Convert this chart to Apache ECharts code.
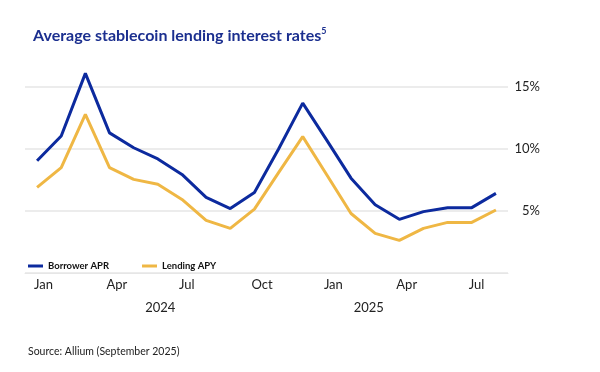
<!DOCTYPE html>
<html><head><meta charset="utf-8">
<script src="https://cdn.jsdelivr.net/npm/echarts@6/dist/echarts.min.js"></script>
<style>html,body{margin:0;padding:0;background:#fff}#c{width:600px;height:372px}</style>
</head><body><div id="c"></div>
<script>
const months = ['Jan','Feb','Mar','Apr','May','Jun','Jul','Aug','Sep','Oct','Nov','Dec',
                'Jan','Feb','Mar','Apr','May','Jun','Jul','Aug'];
const years = ['2024','2025'];
const borrowerAPR = [9.05, 11.05, 16.1, 11.3, 10.1, 9.2, 7.95, 6.1, 5.2, 6.5, 10.0, 13.7, 10.7, 7.65, 5.5, 4.33, 4.95, 5.27, 5.27, 6.42];
const lendingAPY  = [6.9, 8.5, 12.8, 8.5, 7.55, 7.15, 5.93, 4.25, 3.6, 5.15, 8.1, 11.0, 7.9, 4.8, 3.2, 2.63, 3.6, 4.08, 4.08, 5.08];
const yTicks = [0, 5, 10, 15];

const BLUE = '#0c2a9e', YELLOW = '#efb744', FONT = 'Lato';
const chart = echarts.init(document.getElementById('c'), null, {renderer:'canvas'});
chart.setOption({
  animation:false,
  textStyle:{fontFamily:FONT},
  title:[{
    left:28, top:22,
    text:'{t|Average stablecoin lending interest rates}{s|5}',
    textStyle:{rich:{
      t:{fontFamily:FONT,fontSize:16,fontWeight:'bold',color:'#1b2f8f'},
      s:{fontFamily:FONT,fontSize:9,fontWeight:'bold',color:'#1b2f8f',verticalAlign:'top',padding:[0,0,8,0]}
    }}
  },{
    left:23, top:341,
    text:'Source: Allium (September 2025)',
    textStyle:{fontFamily:FONT,fontSize:10.5,fontWeight:'normal',color:'#222'}
  }],
  legend:{
    left:23, top:256, icon:'rect', itemWidth:15, itemHeight:3, itemGap:33,
    textStyle:{fontFamily:FONT,fontSize:9.5,fontWeight:'bold',color:'#111'},
    data:['Borrower APR','Lending APY']
  },
  grid:[
    {left:25, right:92, top:87, bottom:99},
    {left:56, width:417, top:87, bottom:99}
  ],
  xAxis:[{
    type:'category', data:months, boundaryGap:true, gridIndex:0,
    axisLine:{lineStyle:{color:'#e6e6e6',width:1}},
    axisTick:{show:false},
    axisLabel:{interval:(i)=>i%3===0, align:'left', padding:[0,0,0,-3], margin:5,
      fontFamily:FONT,fontSize:13,color:'#222'}
  },{
    type:'category', data:years, boundaryGap:true, gridIndex:1, offset:23,
    axisLine:{show:false}, axisTick:{show:false},
    axisLabel:{margin:5,fontFamily:FONT,fontSize:13,color:'#222'}
  }],
  yAxis:[{
    type:'value', position:'right', min:yTicks[0], max:yTicks[yTicks.length-1], interval:5, gridIndex:0,
    axisLine:{show:false}, axisTick:{show:false},
    splitLine:{lineStyle:{color:'#e6e6e6',width:1.5}},
    axisLabel:{showMinLabel:false, align:'right', margin:32, fontFamily:FONT,fontSize:13,color:'#222',
      formatter:(v)=>v+'%'}
  },{
    type:'value', gridIndex:1, show:false
  }],
  series:[{
    name:'Borrower APR', type:'line', data:borrowerAPR, xAxisIndex:0, yAxisIndex:0,
    symbol:'none', clip:false, lineStyle:{color:BLUE,width:3}, itemStyle:{color:BLUE}
  },{
    name:'Lending APY', type:'line', data:lendingAPY, xAxisIndex:0, yAxisIndex:0,
    symbol:'none', clip:false, lineStyle:{color:YELLOW,width:3}, itemStyle:{color:YELLOW}
  }]
});
</script></body></html>
